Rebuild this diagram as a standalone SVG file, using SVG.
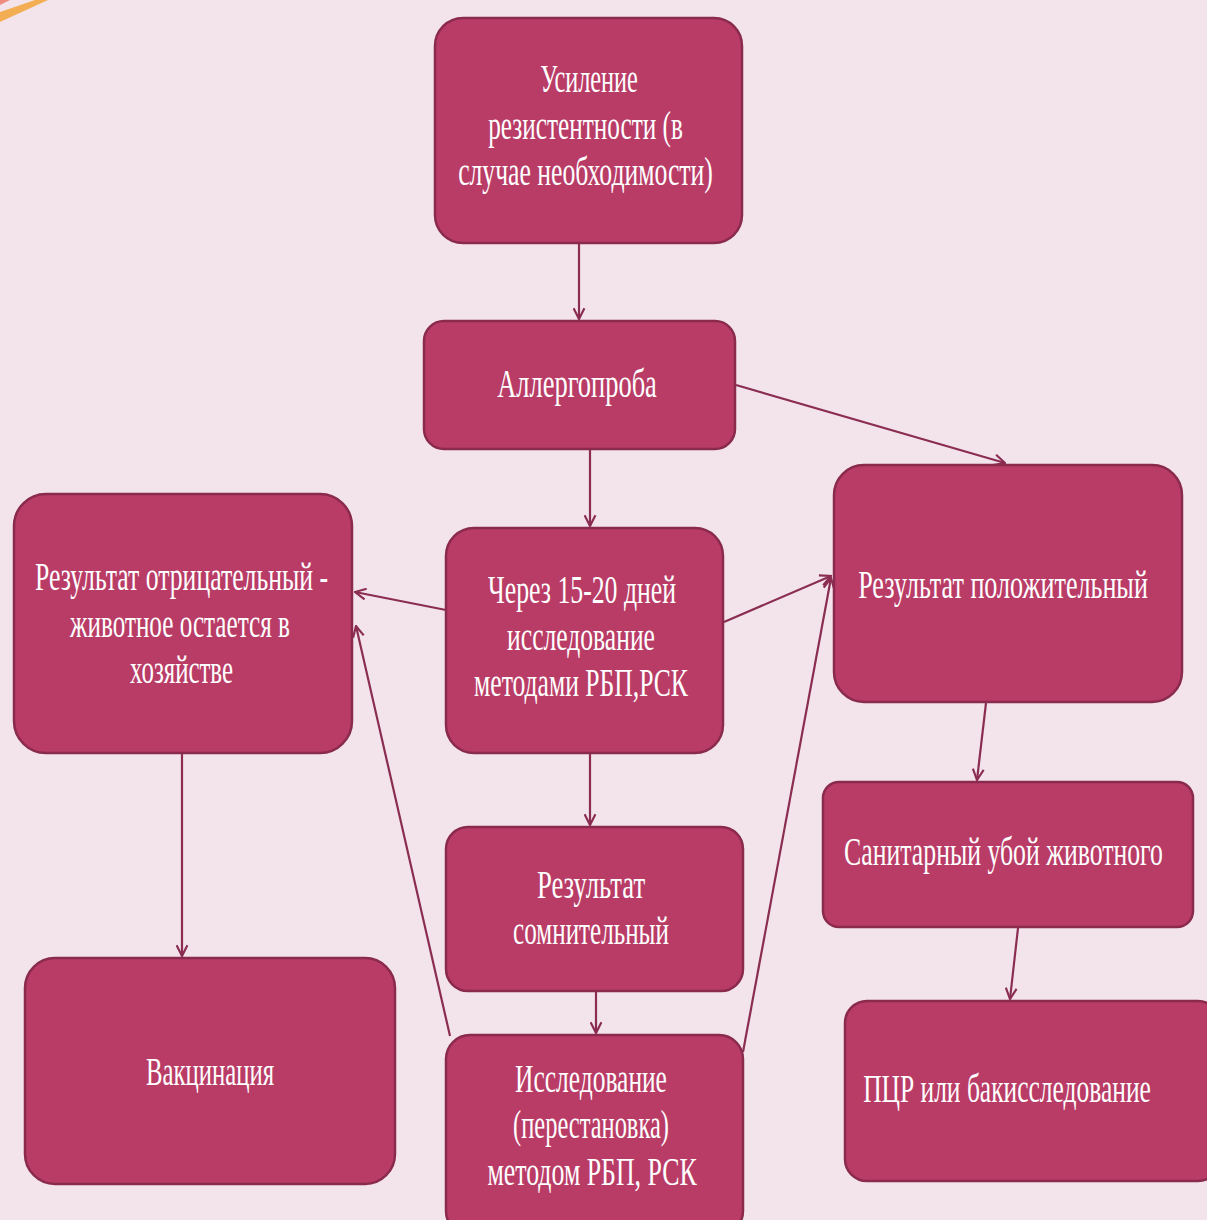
<svg xmlns="http://www.w3.org/2000/svg" width="1207" height="1220" viewBox="0 0 1207 1220">
<defs>
<style>
.node{fill:#b93c67;stroke:#8a2a4c;stroke-width:2.5}
.t{font-family:"Liberation Serif","Times New Roman",serif;font-size:41px;fill:#ffffff;text-anchor:middle}
.c{stroke:#8a2d51;stroke-width:2.2;fill:none}
</style>
<marker id="arr" viewBox="0 0 12 12" refX="11" refY="6" markerWidth="13" markerHeight="13" markerUnits="userSpaceOnUse" orient="auto">
<path d="M1,1 L11,6 L1,11" fill="none" stroke="#8a2d51" stroke-width="2"/>
</marker>
</defs>
<rect width="1207" height="1220" fill="#f3e4ec"/>
<g id="decor">
<polygon points="0,12 35,0 48,0 0,22" fill="#f2a43a" opacity="0.85"/>
<polygon points="0,0 10,0 0,5" fill="#ee8a80"/>
</g>
<g id="connectors">
<line class="c" x1="579" y1="243" x2="579" y2="319" marker-end="url(#arr)"/>
<line class="c" x1="736" y1="385" x2="1005" y2="463" marker-end="url(#arr)"/>
<line class="c" x1="590" y1="450" x2="590" y2="526" marker-end="url(#arr)"/>
<line class="c" x1="446" y1="610" x2="355" y2="592" marker-end="url(#arr)"/>
<line class="c" x1="724" y1="622" x2="831" y2="576" marker-end="url(#arr)"/>
<line class="c" x1="590" y1="754" x2="590" y2="825" marker-end="url(#arr)"/>
<line class="c" x1="182" y1="754" x2="182" y2="956" marker-end="url(#arr)"/>
<line class="c" x1="596" y1="991" x2="596" y2="1033" marker-end="url(#arr)"/>
<line class="c" x1="450" y1="1036" x2="356" y2="626" marker-end="url(#arr)"/>
<line class="c" x1="743" y1="1052" x2="831" y2="578" marker-end="url(#arr)"/>
<line class="c" x1="986" y1="703" x2="977" y2="780" marker-end="url(#arr)"/>
<line class="c" x1="1018" y1="928" x2="1010" y2="999" marker-end="url(#arr)"/>
</g>
<g id="n-usilenie">
<rect class="node" x="435" y="18" width="307" height="225" rx="28"/>
<text class="t" transform="translate(589 92) scale(0.66 1)" x="0" y="0" textLength="148" lengthAdjust="spacingAndGlyphs">Усиление</text>
<text class="t" transform="translate(585.5 139) scale(0.66 1)" x="0" y="0" textLength="295" lengthAdjust="spacingAndGlyphs">резистентности (в</text>
<text class="t" transform="translate(585.5 185) scale(0.66 1)" x="0" y="0" textLength="386" lengthAdjust="spacingAndGlyphs">случае необходимости)</text>
</g>
<g id="n-allergo">
<rect class="node" x="424" y="321" width="311" height="128" rx="20"/>
<text class="t" transform="translate(577 397) scale(0.66 1)" x="0" y="0" textLength="242" lengthAdjust="spacingAndGlyphs">Аллергопроба</text>
</g>
<g id="n-negative">
<rect class="node" x="14" y="494" width="338" height="259" rx="32"/>
<text class="t" transform="translate(181.5 590) scale(0.66 1)" x="0" y="0" textLength="444" lengthAdjust="spacingAndGlyphs">Результат отрицательный -</text>
<text class="t" transform="translate(180 637) scale(0.66 1)" x="0" y="0" textLength="333" lengthAdjust="spacingAndGlyphs">животное остается в</text>
<text class="t" transform="translate(181.5 683) scale(0.66 1)" x="0" y="0" textLength="156" lengthAdjust="spacingAndGlyphs">хозяйстве</text>
</g>
<g id="n-cherez">
<rect class="node" x="446" y="528" width="277" height="225" rx="28"/>
<text class="t" transform="translate(582 603) scale(0.66 1)" x="0" y="0" textLength="285" lengthAdjust="spacingAndGlyphs">Через 15-20 дней</text>
<text class="t" transform="translate(581 650) scale(0.66 1)" x="0" y="0" textLength="224" lengthAdjust="spacingAndGlyphs">исследование</text>
<text class="t" transform="translate(581 696) scale(0.66 1)" x="0" y="0" textLength="324" lengthAdjust="spacingAndGlyphs">методами РБП,РСК</text>
</g>
<g id="n-positive">
<rect class="node" x="834" y="465" width="348" height="237" rx="30"/>
<text class="t" transform="translate(1003 598) scale(0.66 1)" x="0" y="0" textLength="439" lengthAdjust="spacingAndGlyphs">Результат положительный</text>
</g>
<g id="n-sanitary">
<rect class="node" x="823" y="782" width="370" height="145" rx="16"/>
<text class="t" transform="translate(1003.5 865) scale(0.66 1)" x="0" y="0" textLength="483" lengthAdjust="spacingAndGlyphs">Санитарный убой животного</text>
</g>
<g id="n-pcr">
<rect class="node" x="845" y="1001" width="375" height="180" rx="22"/>
<text class="t" transform="translate(1007 1102) scale(0.66 1)" x="0" y="0" textLength="436" lengthAdjust="spacingAndGlyphs">ПЦР или бакисследование</text>
</g>
<g id="n-doubtful">
<rect class="node" x="446" y="827" width="297" height="164" rx="22"/>
<text class="t" transform="translate(591 898) scale(0.66 1)" x="0" y="0" textLength="164" lengthAdjust="spacingAndGlyphs">Результат</text>
<text class="t" transform="translate(591 944) scale(0.66 1)" x="0" y="0" textLength="236" lengthAdjust="spacingAndGlyphs">сомнительный</text>
</g>
<g id="n-research">
<rect class="node" x="446" y="1035" width="297" height="200" rx="24"/>
<text class="t" transform="translate(591 1092) scale(0.66 1)" x="0" y="0" textLength="230" lengthAdjust="spacingAndGlyphs">Исследование</text>
<text class="t" transform="translate(591 1138) scale(0.66 1)" x="0" y="0" textLength="236" lengthAdjust="spacingAndGlyphs">(перестановка)</text>
<text class="t" transform="translate(592 1185) scale(0.66 1)" x="0" y="0" textLength="317" lengthAdjust="spacingAndGlyphs">методом РБП, РСК</text>
</g>
<g id="n-vaccination">
<rect class="node" x="25" y="958" width="370" height="226" rx="30"/>
<text class="t" transform="translate(210 1085) scale(0.66 1)" x="0" y="0" textLength="194" lengthAdjust="spacingAndGlyphs">Вакцинация</text>
</g>
</svg>
